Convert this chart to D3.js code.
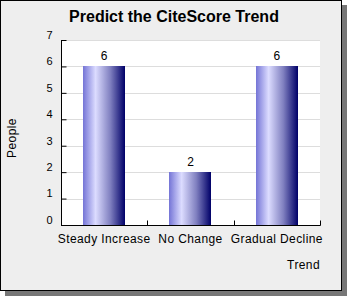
<!DOCTYPE html>
<html>
<head>
<meta charset="utf-8">
<script src="https://cdn.jsdelivr.net/npm/d3@7"></script>
<style>
  body { margin: 0; background: #fff; }
  text { font-family: "Liberation Sans", Arial, sans-serif; }
</style>
</head>
<body>
<div id="draw"></div>
<script>
// data
let categories = ['Steady Increase', 'No Change', 'Gradual Decline'];
let people = [6, 2, 6];
let yTicks = [0, 1, 2, 3, 4, 5, 6, 7];

// parameters
let width = 350, height = 300;
let x0 = 61, x1 = 320, y0 = 225, y1 = 40;
let font = '"Liberation Sans", Arial, sans-serif';

let svg = d3.select('#draw').append('svg').attr('width', width).attr('height', height);

// gradient for bars
let defs = svg.append('defs');
let grad = defs.append('linearGradient').attr('id', 'barGrad')
    .attr('x1', '0%').attr('x2', '100%').attr('y1', '0%').attr('y2', '0%');
grad.append('stop').attr('offset', '0%').attr('stop-color', '#7474d6');
grad.append('stop').attr('offset', '30%').attr('stop-color', '#dcdcff');
grad.append('stop').attr('offset', '65%').attr('stop-color', '#8080c0');
grad.append('stop').attr('offset', '100%').attr('stop-color', '#000068');

// frame + shadow
svg.append('rect').attr('x', 5).attr('y', 5).attr('width', 342).attr('height', 291).style('fill', '#777');
svg.append('rect').attr('x', 0.5).attr('y', 0.5).attr('width', 341).attr('height', 290)
    .style('fill', '#eeeeee').style('stroke', '#000');

// title
svg.append('text').attr('x', 174).attr('y', 22).attr('text-anchor', 'middle')
    .style('font-size', '16px').style('font-weight', 'bold').text('Predict the CiteScore Trend');

// scales
let x = d3.scaleBand().domain(categories).range([x0, x1]).paddingInner(0.51).paddingOuter(0.255);
let y = d3.scaleLinear().domain([0, 7]).range([y0, y1]);

// plot background
svg.append('rect').attr('x', x0).attr('y', y1).attr('width', x1 - x0).attr('height', y0 - y1).style('fill', '#fff');

// grid
svg.append('g').selectAll('line').data(yTicks.filter(d => d > 0)).enter().append('line')
    .attr('x1', x0).attr('x2', x1).attr('y1', d => Math.round(y(d)) + 0.5).attr('y2', d => Math.round(y(d)) + 0.5)
    .style('stroke', '#dddddd');

// bars
svg.append('g').selectAll('rect').data(people).enter().append('rect')
    .attr('x', (d, i) => Math.round(x(categories[i])))
    .attr('y', d => Math.round(y(d)))
    .attr('width', Math.round(x.bandwidth()))
    .attr('height', d => y0 - Math.round(y(d)))
    .style('fill', 'url(#barGrad)');

// value labels
svg.append('g').selectAll('text').data(people).enter().append('text')
    .attr('x', (d, i) => x(categories[i]) + x.bandwidth() / 2)
    .attr('y', d => y(d) - 6)
    .attr('text-anchor', 'middle').style('font-size', '12px').text(d => d);

// y axis
let yAxis = d3.axisLeft(y).tickValues(yTicks).tickFormat(d3.format('d')).tickSize(-5).tickPadding(9);
let ya = svg.append('g').attr('transform', 'translate(' + (x0 + 0.5) + ',0)').call(yAxis);
ya.selectAll('text').style('font-size', '11px').style('font-family', font).attr('dy', '-0.15em');
ya.select('.domain').attr('d', 'M0,' + y1 + 'V' + (y0 + 0.5)).style('stroke', '#000');
ya.selectAll('line').style('stroke', '#000');

// x axis
let xb = d3.scaleLinear().domain([0, 3]).range([x0, x1]);
let xa = svg.append('g').attr('transform', 'translate(0,' + (y0 + 0.5) + ')');
xa.append('line').attr('x1', x0).attr('x2', x1 + 0.5).style('stroke', '#000');
xa.selectAll('.tk').data([1, 2, 3]).enter().append('line').attr('class', 'tk')
    .attr('x1', d => Math.round(xb(d)) + 0.5).attr('x2', d => Math.round(xb(d)) + 0.5)
    .attr('y1', 0).attr('y2', -5).style('stroke', '#000');
xa.selectAll('text').data(categories).enter().append('text')
    .attr('x', d => x(d) + x.bandwidth() / 2).attr('y', 17)
    .attr('text-anchor', 'middle').style('font-size', '12px').style('letter-spacing', '0.4px').text(d => d);

// axis titles
svg.append('text').attr('transform', 'translate(16,' + 138 + ') rotate(-90)')
    .attr('text-anchor', 'middle').style('font-size', '12px').style('letter-spacing', '0.4px').text('People');
svg.append('text').attr('x', 320).attr('y', 269).attr('text-anchor', 'end')
    .style('font-size', '12px').style('letter-spacing', '0.4px').text('Trend');
</script>
</body>
</html>
